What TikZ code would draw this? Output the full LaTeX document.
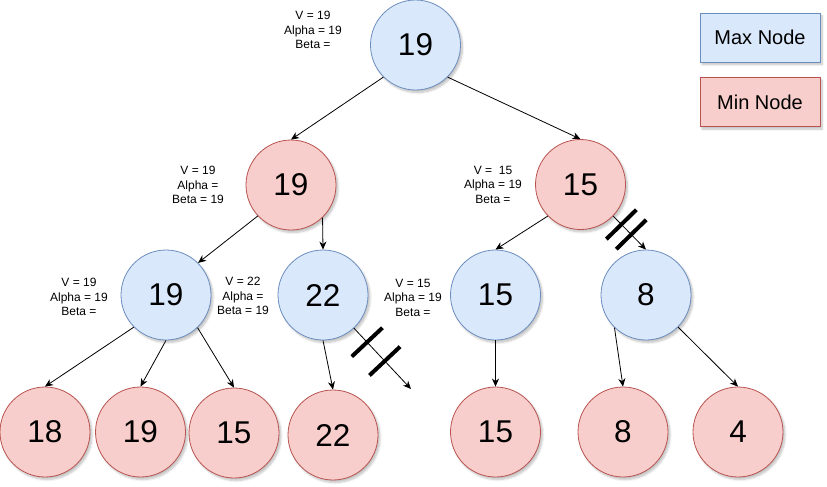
\documentclass[tikz,border=0pt]{standalone}
\usepackage{fontspec}
\setmainfont{Liberation Sans}
\usetikzlibrary{arrows.meta,shadows.blur}
\definecolor{maxfill}{HTML}{DAE8FC}
\definecolor{maxline}{HTML}{6C8EBF}
\definecolor{minfill}{HTML}{F8CECC}
\definecolor{minline}{HTML}{B85450}
\begin{document}
\begin{tikzpicture}[x=1pt,y=-1pt,
  shd/.style={blur shadow={shadow xshift=2pt,shadow yshift=-2.5pt,shadow blur steps=6,shadow opacity=25}},
  maxn/.style={circle,draw=maxline,fill=maxfill,minimum size=90pt,inner sep=0pt,line width=0.8pt,font=\fontsize{31.5}{34}\selectfont,shd},
  minn/.style={circle,draw=minline,fill=minfill,minimum size=90pt,inner sep=0pt,line width=0.8pt,font=\fontsize{31.5}{34}\selectfont,shd},
  lab/.style={align=center,font=\fontsize{12}{14.5}\selectfont,inner sep=0pt},
  keybox/.style={rectangle,line width=0.8pt,minimum width=120pt,minimum height=49pt,inner sep=0pt,font=\fontsize{20}{22}\selectfont,shd},
  edge/.style={draw,line width=0.8pt,-{Stealth[length=8pt,width=7pt,inset=2.5pt]}},
  hash/.style={sloped,rectangle,fill=black,minimum width=4pt,minimum height=42pt,inner sep=0pt}
]
\useasboundingbox (0,0) rectangle (827,487);

% legend
\node[keybox,draw=maxline,fill=maxfill] (kmax) at (760,37.5) {Max Node};
\node[keybox,draw=minline,fill=minfill] (kmin) at (760,102) {Min Node};

% tree nodes
\node[maxn] (r) at (415.5,45) {19};
\node[minn] (a) at (291,185) {19};
\node[minn] (b) at (580.5,184.5) {15};
\node[maxn] (c) at (166,295) {19};
\node[maxn] (d) at (323,295) {22};
\node[maxn] (e) at (495.5,295) {15};
\node[maxn] (f) at (646,295) {8};
\node[minn] (l1) at (45,432) {18};
\node[minn] (l2) at (140.5,432) {19};
\node[minn] (l3) at (234,433) {15};
\node[minn] (l4) at (333,435) {22};
\node[minn] (l5) at (495.5,432) {15};
\node[minn] (l6) at (623,432) {8};
\node[minn] (l7) at (738,432) {4};
\coordinate (cut) at (411,389);

% labels
\node[lab] (lr) at (313,30) {V = 19\\Alpha = 19\\Beta =};
\node[lab] (la) at (198,185) {V = 19\\Alpha =\\Beta = 19};
\node[lab] (lb) at (493,184.5) {V =\ \ 15\\Alpha = 19\\Beta =};
\node[lab] (lc) at (79,297) {V = 19\\Alpha = 19\\Beta =};
\node[lab] (ld) at (243,296) {V = 22\\Alpha =\\Beta = 19};
\node[lab] (le) at (413,297.5) {V = 15\\Alpha = 19\\Beta =};

% edges
\draw[edge] (r.225) -- (a.north);
\draw[edge] (r.-45) -- (b.north);
\draw[edge] (a.223) -- (c.45);
\draw[edge] (a.-46) -- (d.north);
\draw[edge] (b.224) -- (e.north);
\draw[edge] (b.-44) -- (f.north) node[hash,pos=0.25]{} node[hash,pos=0.55]{};
\draw[edge] (c.225) -- (l1.north);
\draw[edge] (c.-90) -- (l2.north);
\draw[edge] (c.-46) -- (l3.north);
\draw[edge] (d.south) -- (l4.north);
\draw[edge] (d.-47) -- (cut) node[hash,pos=0.23]{} node[hash,pos=0.54]{};
\draw[edge] (e.south) -- (l5.north);
\draw[edge] (f.226) -- (l6.north);
\draw[edge] (f.-45) -- (l7.north);
\end{tikzpicture}
\end{document}
